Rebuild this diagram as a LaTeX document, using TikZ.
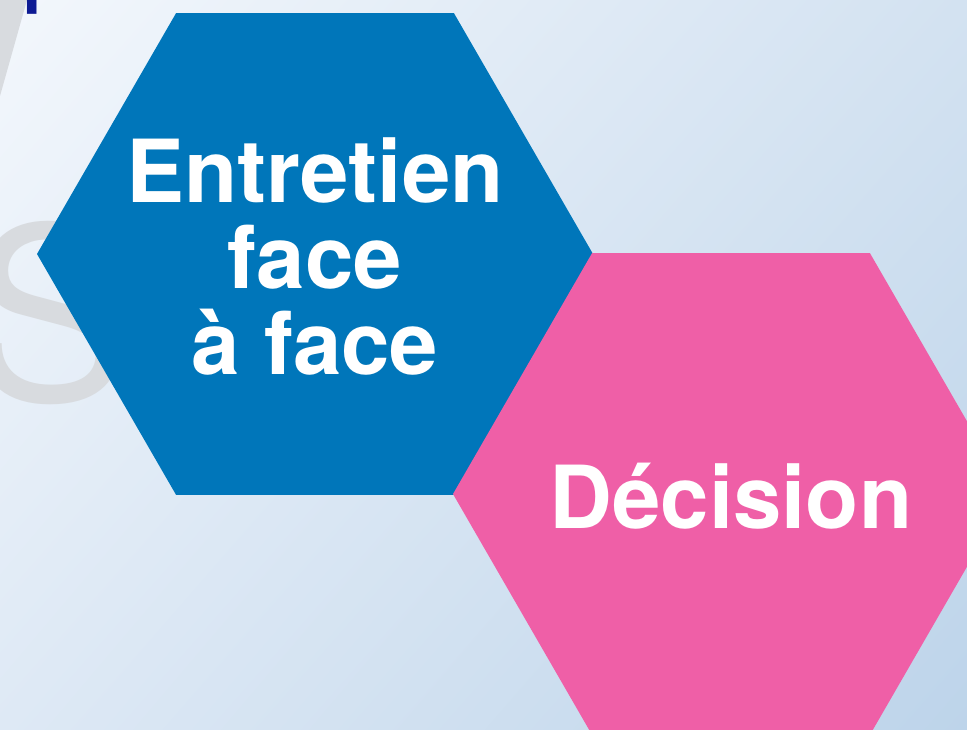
\documentclass[tikz,border=0pt]{standalone}
\usepackage{fontspec}
\setmainfont{TeX Gyre Heros}
\usetikzlibrary{shadings}
\definecolor{hexblue}{HTML}{0076BA}
\definecolor{hexpink}{HTML}{EF5FA7}
\definecolor{navy}{HTML}{0D1A93}
\definecolor{ghost}{HTML}{D8DBDF}
\definecolor{bgA}{HTML}{F3F7FC}
\definecolor{bgB}{HTML}{D3E2F1}
\definecolor{bgC}{HTML}{DEE9F5}
\definecolor{bgD}{HTML}{BDD4EA}
\begin{document}
\begin{tikzpicture}[x=1pt,y=-1pt,semithick]
	\tikzstyle{label}=[inner sep=0pt,text=white,align=center,
					font=\bfseries\fontsize{87}{86}\selectfont]
	
	\useasboundingbox (0,0) rectangle (967,730);
	\clip (0,0) rectangle (967,730);
	\shade[upper left=bgA,upper right=bgB,lower left=bgC,lower right=bgD]
		(0,0) rectangle (967,730);
	
	% faded letters behind
	\fill[ghost] (0,0) -- (27,0) -- (0,96) -- cycle;
	\node[text=ghost,font=\fontsize{240}{240}\selectfont,inner sep=0pt] (G_0) at (50,313) {S};
	\node[anchor=base west,text=navy,font=\bfseries\fontsize{68}{68}\selectfont,inner sep=0pt] (T_0) at (23,0) {pour un entretien};
	
	\coordinate (C_0) at (315,254);
	\coordinate (C_1) at (731,494);
	\fill[hexblue] (C_0) +(0:278) -- +(60:278) -- +(120:278) -- +(180:278) -- +(240:278) -- +(300:278) -- cycle;
	\fill[hexpink] (C_1) +(0:278) -- +(60:278) -- +(120:278) -- +(180:278) -- +(240:278) -- +(300:278) -- cycle;
	
	\node[label] (H_0) at ([yshift=-2pt]C_0) {Entretien\\face\\à face};
	\node[label] (H_1) at ([yshift=-2pt]C_1) {Décision};
\end{tikzpicture}
\end{document}
